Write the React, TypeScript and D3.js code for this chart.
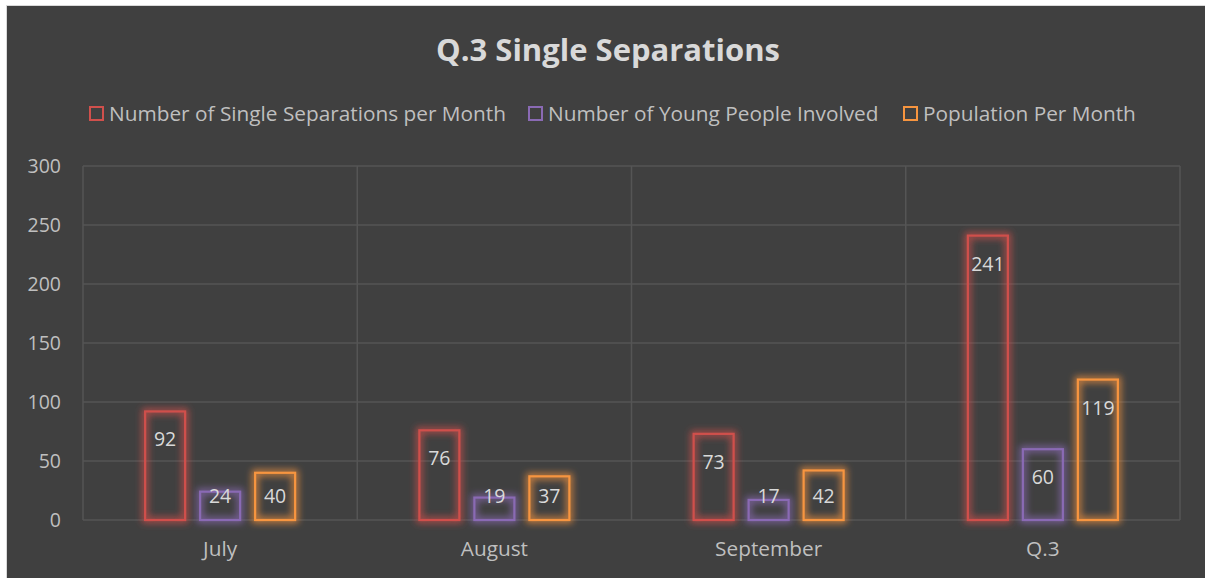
import React from "react";
import * as d3 from "d3";

const categories = ["July", "August", "September", "Q.3"];
const seriesNames = [
  "Number of Single Separations per Month",
  "Number of Young People Involved",
  "Population Per Month",
];
const separations = [92, 76, 73, 241];
const youngPeople = [24, 19, 17, 60];
const population = [40, 37, 42, 119];
const yTicks = [0, 50, 100, 150, 200, 250, 300];
const seriesColors = ["#d0504c", "#8a6ab4", "#f7953f"];

const W = 1205;
const H = 578;
const FONT = "'Open Sans', Lato, sans-serif";

export default function App() {
  const seriesValues = [separations, youngPeople, population];
  const x = d3.scaleBand<string>().domain(categories).range([83, 1180]).padding(0);
  const y = d3.scaleLinear().domain([0, 300]).range([520, 166]);
  const inner = d3
    .scaleBand<string>()
    .domain(seriesNames)
    .range([-75, 75])
    .paddingInner(15 / 55)
    .paddingOuter(0);

  const legendX = [89, 528, 903];

  return (
    <div style={{ position: "absolute", left: 0, top: 0 }}>
      <svg width={W} height={H} style={{ display: "block" }}>
        <defs>
          {seriesColors.map((c, i) => (
            <filter key={i} id={`glow${i}`} x="-50%" y="-50%" width="200%" height="200%">
              <feMorphology in="SourceGraphic" operator="dilate" radius="1.5" result="d" />
              <feGaussianBlur in="d" stdDeviation="3.5" result="b" />
              <feComponentTransfer in="b" result="b2">
                <feFuncA type="linear" slope="0.75" />
              </feComponentTransfer>
              <feMerge>
                <feMergeNode in="b2" />
                <feMergeNode in="SourceGraphic" />
              </feMerge>
            </filter>
          ))}
        </defs>
        <rect x={0} y={0} width={W} height={H} fill="#ffffff" />
        <rect x={6} y={5} width={W} height={H} fill="#d9d9d9" />
        <rect x={7} y={6} width={W} height={H} fill="#404040" />

        <text
          x={608}
          y={61}
          textAnchor="middle"
          fontFamily={FONT}
          fontWeight="bold"
          fontSize={31}
          fill="#d9d9d9"
        >
          Q.3 Single Separations
        </text>

        {seriesNames.map((name, i) => (
          <g key={name}>
            <rect
              x={legendX[i] + 1}
              y={107}
              width={13}
              height={13}
              fill="none"
              stroke={seriesColors[i]}
              strokeWidth={2}
            />
            <text x={legendX[i] + 20} y={121} fontFamily={FONT} fontSize={20.8} fill="#bfbfbf">
              {name}
            </text>
          </g>
        ))}

        {yTicks.map((t) => (
          <g key={t}>
            <line x1={83} x2={1180} y1={y(t)} y2={y(t)} stroke="#555555" strokeWidth={1.5} />
            <text
              x={61}
              y={y(t) + 7}
              textAnchor="end"
              fontFamily={FONT}
              fontSize={19.5}
              fill="#bfbfbf"
            >
              {t}
            </text>
          </g>
        ))}
        {categories.map((c) => (
          <line
            key={c}
            x1={x(c)!}
            x2={x(c)!}
            y1={y(300)}
            y2={y(0)}
            stroke="#555555"
            strokeWidth={1.5}
          />
        ))}
        <line x1={1180} x2={1180} y1={y(300)} y2={y(0)} stroke="#555555" strokeWidth={1.5} />

        {categories.map((c, ci) => {
          const cx = x(c)! + x.bandwidth() / 2;
          return (
            <g key={c}>
              {seriesNames.map((s, si) => {
                const v = seriesValues[si][ci];
                const bx = cx + inner(s)!;
                const top = y(v);
                const labelY = Math.min(top + 28, 496);
                return (
                  <g key={s}>
                    <rect
                      x={bx}
                      y={top}
                      width={inner.bandwidth()}
                      height={y(0) - top}
                      fill="none"
                      stroke={seriesColors[si]}
                      strokeWidth={2.2}
                      filter={`url(#glow${si})`}
                    />
                    <text
                      x={bx + inner.bandwidth() / 2}
                      y={labelY + 7}
                      textAnchor="middle"
                      fontFamily={FONT}
                      fontSize={19.5}
                      fill="#d9d9d9"
                    >
                      {v}
                    </text>
                  </g>
                );
              })}
              <text
                x={cx}
                y={556}
                textAnchor="middle"
                fontFamily={FONT}
                fontSize={20.8}
                fill="#bfbfbf"
              >
                {c}
              </text>
            </g>
          );
        })}
      </svg>
    </div>
  );
}
